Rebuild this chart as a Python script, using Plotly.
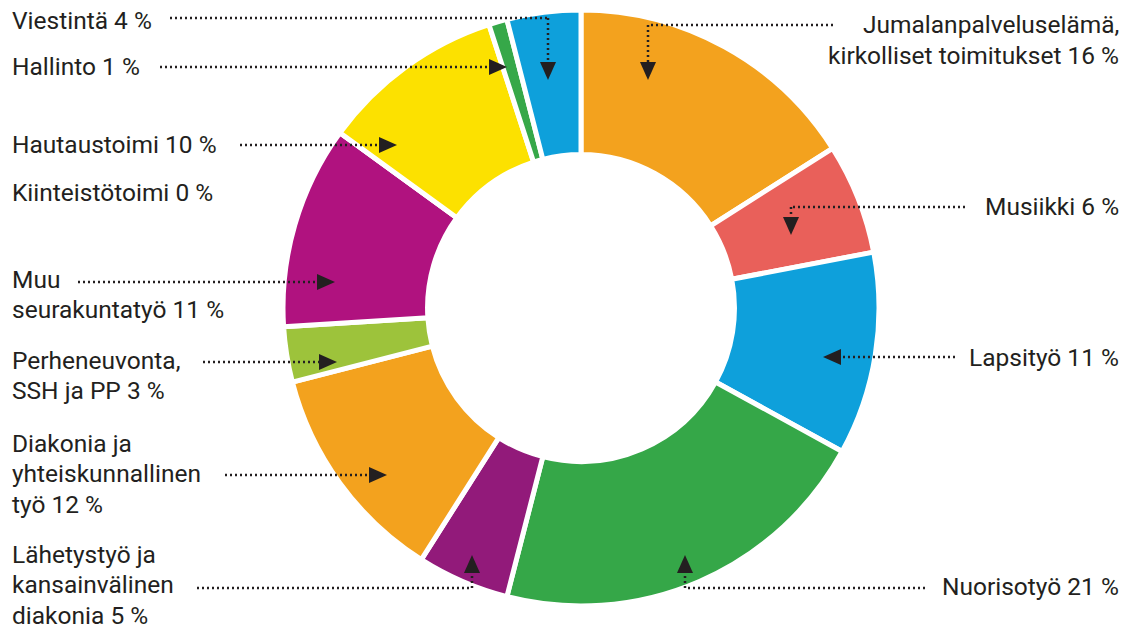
import plotly.graph_objects as go

W, H = 1126, 630

# ---- data ----
categories = [
    "Jumalanpalveluselämä, kirkolliset toimitukset",
    "Musiikki",
    "Lapsityö",
    "Nuorisotyö",
    "Lähetystyö ja kansainvälinen diakonia",
    "Diakonia ja yhteiskunnallinen työ",
    "Perheneuvonta, SSH ja PP",
    "Muu seurakuntatyö",
    "Kiinteistötoimi",
    "Hautaustoimi",
    "Hallinto",
    "Viestintä",
]
values = [16, 6, 11, 21, 5, 12, 3, 11, 0, 10, 1, 4]
colors = ["#F3A21E", "#E9605A", "#0EA0DB", "#35A748", "#921A7A", "#F3A21E",
          "#9DC33B", "#B0127F", "#888888", "#FCE100", "#36A849", "#0EA0DB"]

# label texts (lines), first-line y (px)
left_labels = [
    (["Viestintä 4 %"], 20),
    (["Hallinto 1 %"], 67),
    (["Hautaustoimi 10 %"], 145),
    (["Kiinteistötoimi 0 %"], 192),
    (["Muu", "seurakuntatyö 11 %"], 279),
    (["Perheneuvonta,", "SSH ja PP 3 %"], 360),
    (["Diakonia ja", "yhteiskunnallinen", "työ 12 %"], 443),
    (["Lähetystyö ja", "kansainvälinen", "diakonia 5 %"], 554),
]
right_labels = [
    (["Jumalanpalveluselämä,", "kirkolliset toimitukset 16 %"], 25),
    (["Musiikki 6 %"], 207),
    (["Lapsityö 11 %"], 357),
    (["Nuorisotyö 21 %"], 586),
]
LINE_H = 30.5

# leader polylines (px) ending at arrow tip, with arrow direction
leaders = [
    ([(170, 18), (548, 18), (548, 80)], "down"),
    ([(160, 67), (507, 67)], "right"),
    ([(240, 145), (397, 145)], "right"),
    ([(78, 282), (335, 282)], "right"),
    ([(203, 362), (337, 362)], "right"),
    ([(225, 475), (387, 475)], "right"),
    ([(197, 588), (472, 588), (472, 555)], "up"),
    ([(925, 588), (685, 588), (685, 555)], "up"),
    ([(955, 357), (823, 357)], "left"),
    ([(965, 207), (791, 207), (791, 235)], "down"),
    ([(833, 25), (648, 25), (648, 80)], "down"),
]

def px(x):
    return x / W

def py(y):
    return 1 - y / H

fig = go.Figure()
R = 298
cx, cy = 581, 308
fig.add_trace(go.Pie(
    labels=categories,
    values=values,
    sort=False,
    direction="clockwise",
    rotation=0,
    hole=0.515,
    marker=dict(colors=colors, line=dict(color="white", width=5)),
    textinfo="none",
    hoverinfo="label+percent",
    showlegend=False,
    domain=dict(x=[px(cx - R), px(cx + R)], y=[py(cy + R), py(cy - R)]),
))

FONT = dict(family="Roboto", size=24.5, color="#231F20")
ann = []
for lines, y0 in left_labels:
    for i, t in enumerate(lines):
        ann.append(dict(text=t, x=px(11), y=py(y0 + i * LINE_H), xref="paper", yref="paper",
                        xanchor="left", yanchor="middle", showarrow=False, font=FONT,
                        borderpad=0))
for lines, y0 in right_labels:
    for i, t in enumerate(lines):
        ann.append(dict(text=t, x=px(1120), y=py(y0 + i * LINE_H), xref="paper", yref="paper",
                        xanchor="right", yanchor="middle", showarrow=False, font=FONT,
                        borderpad=0))

shapes = []
AL, AW = 18, 8  # arrow length, half width
for pts, d in leaders:
    body = list(pts)
    tx, ty = body[-1]
    if d == "down":
        body[-1] = (tx, ty - AL)
        tri = [(tx, ty), (tx - AW, ty - AL), (tx + AW, ty - AL)]
    elif d == "up":
        body[-1] = (tx, ty + AL)
        tri = [(tx, ty), (tx - AW, ty + AL), (tx + AW, ty + AL)]
    elif d == "right":
        body[-1] = (tx - AL, ty)
        tri = [(tx, ty), (tx - AL, ty - AW), (tx - AL, ty + AW)]
    else:
        body[-1] = (tx + AL, ty)
        tri = [(tx, ty), (tx + AL, ty - AW), (tx + AL, ty + AW)]
    for (x0, y0), (x1, y1) in zip(body[:-1], body[1:]):
        shapes.append(dict(type="line", xref="paper", yref="paper",
                           x0=px(x0), y0=py(y0), x1=px(x1), y1=py(y1),
                           line=dict(color="#231F20", width=2.5, dash="2px,3px")))
    path = "M " + " L ".join(f"{px(a):.5f},{py(b):.5f}" for a, b in tri) + " Z"
    shapes.append(dict(type="path", xref="paper", yref="paper", path=path,
                       fillcolor="#231F20", line=dict(width=0)))

fig.update_layout(
    width=W, height=H,
    margin=dict(l=0, r=0, t=0, b=0),
    paper_bgcolor="white", plot_bgcolor="white",
    annotations=ann, shapes=shapes,
)
fig.write_html("out.html", config={"displayModeBar": False},
               post_script="document.body.style.margin='0';document.body.style.overflow='hidden';")
